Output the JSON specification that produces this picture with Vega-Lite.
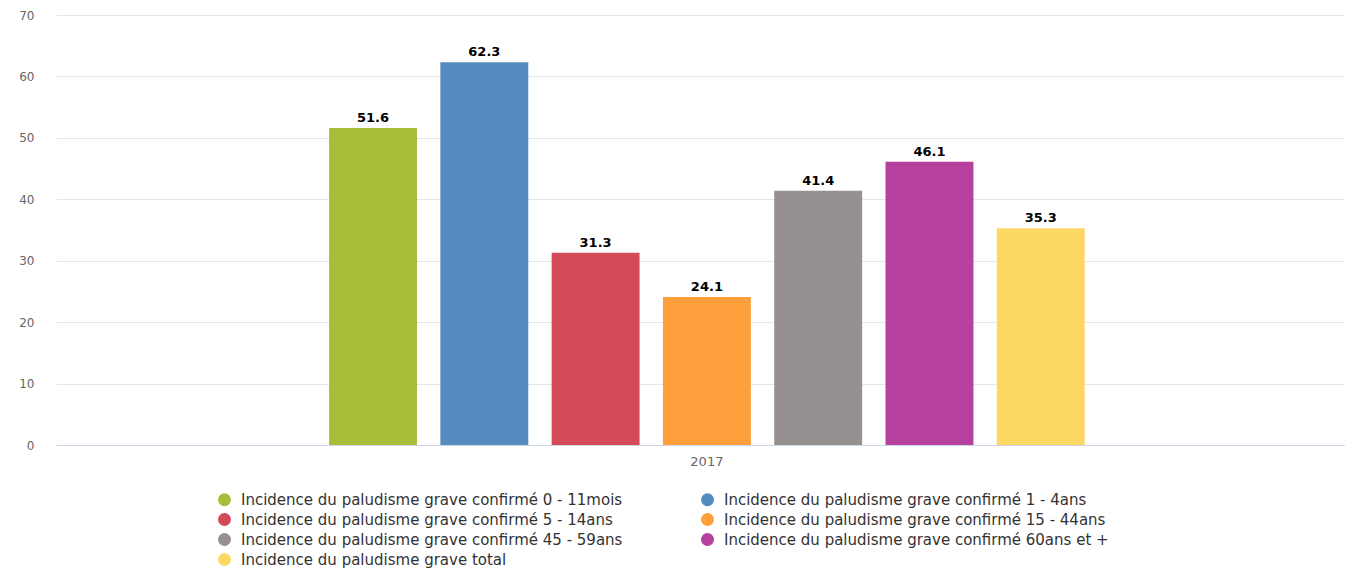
{
  "$schema": "https://vega.github.io/schema/vega-lite/v6.json",
  "width": 1289,
  "height": 430,
  "autosize": {"type": "none"},
  "padding": {"left": 56, "top": 15, "right": 0, "bottom": 124},
  "background": "white",
  "config": {
    "font": "DejaVu Sans",
    "view": {"stroke": null}
  },
  "data": {
    "values": [
      {"year": "2017", "series": "Incidence du paludisme grave confirmé 0 - 11mois", "value": 51.6},
      {"year": "2017", "series": "Incidence du paludisme grave confirmé 1 - 4ans", "value": 62.3},
      {"year": "2017", "series": "Incidence du paludisme grave confirmé 5 - 14ans", "value": 31.3},
      {"year": "2017", "series": "Incidence du paludisme grave confirmé 15 - 44ans", "value": 24.1},
      {"year": "2017", "series": "Incidence du paludisme grave confirmé 45 - 59ans", "value": 41.4},
      {"year": "2017", "series": "Incidence du paludisme grave confirmé 60ans et +", "value": 46.1},
      {"year": "2017", "series": "Incidence du paludisme grave total", "value": 35.3}
    ]
  },
  "encoding": {
    "x": {
      "field": "year",
      "type": "nominal",
      "scale": {"paddingInner": 0, "paddingOuter": 0.3529, "align": 0.512},
      "axis": {
        "title": null,
        "labelAngle": 0,
        "labelFontSize": 13,
        "labelColor": "#666666",
        "labelPadding": 10,
        "ticks": false,
        "domainColor": "#ccd6eb",
        "domainWidth": 1
      }
    },
    "xOffset": {
      "field": "series",
      "type": "nominal",
      "sort": null,
      "scale": {
        "domain": [
          "Incidence du paludisme grave confirmé 0 - 11mois",
          "Incidence du paludisme grave confirmé 1 - 4ans",
          "Incidence du paludisme grave confirmé 5 - 14ans",
          "Incidence du paludisme grave confirmé 15 - 44ans",
          "Incidence du paludisme grave confirmé 45 - 59ans",
          "Incidence du paludisme grave confirmé 60ans et +",
          "Incidence du paludisme grave total"
        ],
        "paddingInner": 0.21,
        "paddingOuter": 0
      }
    },
    "y": {
      "field": "value",
      "type": "quantitative",
      "scale": {"domain": [0, 70], "nice": false},
      "axis": {
        "title": null,
        "values": [0, 10, 20, 30, 40, 50, 60, 70],
        "domain": false,
        "ticks": false,
        "labelPadding": 22,
        "labelFontSize": 12,
        "labelColor": "#666666",
        "gridColor": "#e6e6e6",
        "gridWidth": 1
      }
    }
  },
  "layer": [
    {
      "mark": {"type": "bar"},
      "encoding": {
        "color": {
          "field": "series",
          "type": "nominal",
          "scale": {
            "domain": [
              "Incidence du paludisme grave confirmé 0 - 11mois",
              "Incidence du paludisme grave confirmé 1 - 4ans",
              "Incidence du paludisme grave confirmé 5 - 14ans",
              "Incidence du paludisme grave confirmé 15 - 44ans",
              "Incidence du paludisme grave confirmé 45 - 59ans",
              "Incidence du paludisme grave confirmé 60ans et +",
              "Incidence du paludisme grave total"
            ],
            "range": ["#aabd3b", "#568bbf", "#d44a58", "#ff9f3b", "#969090", "#b5409e", "#fed865"]
          },
          "legend": {
            "title": null,
            "orient": "none",
            "legendX": 161,
            "legendY": 477,
            "columns": 2,
            "direction": "horizontal",
            "symbolType": "circle",
            "symbolSize": 170,
            "symbolStrokeWidth": 0,
            "labelFontSize": 15,
            "labelColor": "#333333",
            "labelOffset": 9,
            "labelLimit": 0,
            "rowPadding": 4,
            "columnPadding": 77,
            "padding": 0
          }
        }
      }
    },
    {
      "mark": {"type": "text", "baseline": "alphabetic", "dy": -6, "fontWeight": "bold", "fontSize": 13, "color": "#000000"},
      "encoding": {
        "text": {"field": "value", "type": "quantitative", "format": ".1f"}
      }
    }
  ]
}
